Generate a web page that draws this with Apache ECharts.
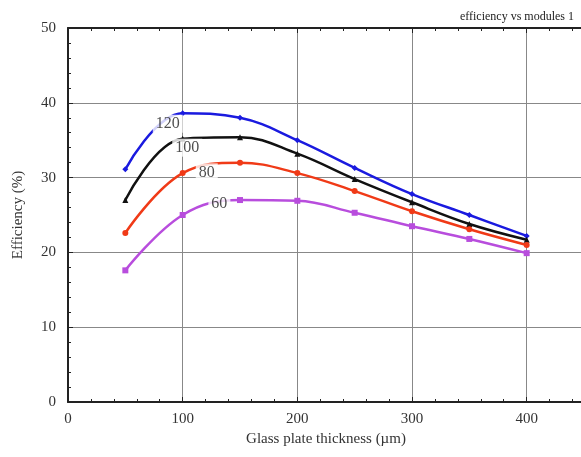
<!DOCTYPE html>
<html>
<head>
<meta charset="utf-8">
<script src="https://cdn.jsdelivr.net/npm/echarts@6/dist/echarts.min.js"></script>
<style>
  html, body { margin: 0; padding: 0; background: #fff; }
  #main { width: 581px; height: 457px; }
</style>
</head>
<body>
<div id="main"></div>
<script>
// glass plate thickness (um)
const thickness = [50, 100, 150, 200, 250, 300, 350, 400];

// efficiency (%) per number of modules
const eff120 = [31.1, 38.6, 38.0, 35.0, 31.3, 27.8, 25.0, 22.2];
const eff100 = [27.0, 35.2, 35.4, 33.2, 29.8, 26.7, 23.8, 21.7];
const eff80 = [22.6, 30.6, 32.0, 30.6, 28.2, 25.5, 23.1, 21.0];
const eff60 = [17.6, 25.0, 27.0, 26.9, 25.3, 23.5, 21.8, 19.9];

// curve labels placed on the lines
const curveLabels = [
    [87, 37.2, '120'],
    [104, 34.0, '100'],
    [121, 30.7, '80'],
    [132, 26.5, '60']
];

const font = 'Liberation Serif';
let myChart = echarts.init(document.getElementById('main'));

function makeSeries(name, values, color, symbol) {
    return {
        name: name,
        type: 'line',
        smooth: 0.4,
        data: thickness.map((x, i) => [x, values[i]]),
        symbol: symbol,
        symbolSize: 6,
        lineStyle: { color: color, width: 2.5 },
        itemStyle: { color: color },
        z: 3
    };
}

let option = {
    animation: false,
    title: {
        text: 'efficiency vs modules 1',
        right: 2,
        top: 6,
        textStyle: { fontFamily: font, fontSize: 12, fontWeight: 'normal', color: '#222' }
    },
    grid: { left: 68, right: -3, top: 28, bottom: 55, outerBoundsMode: 'none', containLabel: false },
    xAxis: [{
        type: 'value',
        min: 0,
        max: 450,
        interval: 100,
        name: 'Glass plate thickness (\u00b5m)',
        nameLocation: 'middle',
        nameGap: 30,
        nameTextStyle: { fontFamily: font, fontSize: 15, color: '#333' },
        axisLine: { lineStyle: { color: '#222', width: 2 } },
        axisTick: { inside: true, length: 5, lineStyle: { color: '#222' } },
        minorTick: { show: true, splitNumber: 5, length: 3, lineStyle: { color: '#222' } },
        axisLabel: { fontFamily: font, fontSize: 15, color: '#333', margin: 10, showMaxLabel: false },
        splitLine: { show: true, lineStyle: { color: '#888', width: 1 } }
    }, {
        type: 'value',
        position: 'top',
        min: 0,
        max: 450,
        interval: 100,
        axisLine: { lineStyle: { color: '#222', width: 2 } },
        axisTick: { inside: true, length: 5, lineStyle: { color: '#222' } },
        minorTick: { show: true, splitNumber: 5, length: 3, lineStyle: { color: '#222' } },
        axisLabel: { show: false },
        splitLine: { show: false }
    }],
    yAxis: {
        type: 'value',
        min: 0,
        max: 50,
        interval: 10,
        name: 'Efficiency (%)',
        nameLocation: 'middle',
        nameGap: 42,
        nameTextStyle: { fontFamily: font, fontSize: 15, color: '#333' },
        axisLine: { show: true, lineStyle: { color: '#222', width: 2 } },
        axisTick: { inside: true, length: 5, lineStyle: { color: '#222' } },
        minorTick: { show: true, splitNumber: 5, length: 3, lineStyle: { color: '#222' } },
        axisLabel: { fontFamily: font, fontSize: 15, color: '#333', margin: 12 },
        splitLine: { show: true, lineStyle: { color: '#888', width: 1 } }
    },
    series: [
        makeSeries('120', eff120, '#1a1adf', 'diamond'),
        makeSeries('100', eff100, '#111111', 'triangle'),
        makeSeries('80', eff80, '#f03a17', 'circle'),
        makeSeries('60', eff60, '#b84ddd', 'rect'),
        {
            type: 'scatter',
            data: curveLabels,
            symbolSize: 0,
            z: 5,
            label: {
                show: true,
                position: 'inside',
                formatter: (p) => p.value[2],
                fontFamily: font,
                fontSize: 16,
                color: '#222',
                backgroundColor: '#fff',
                padding: [1, 3]
            }
        }
    ]
};
myChart.setOption(option);
</script>
</body>
</html>
